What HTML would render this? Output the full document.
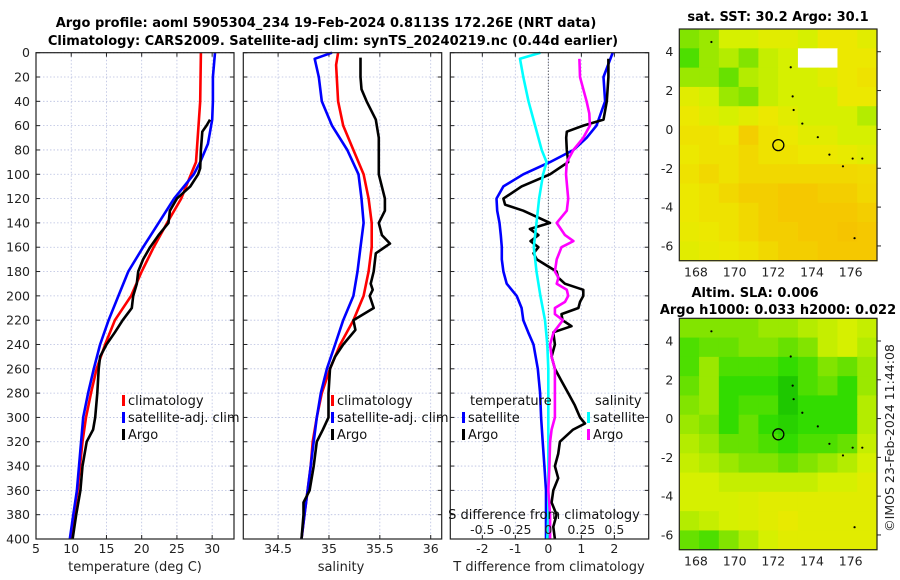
<!DOCTYPE html>
<html><head><meta charset="utf-8">
<style>
html,body{margin:0;padding:0;background:#fff;}
svg{display:block;font-family:"DejaVu Sans","Liberation Sans",sans-serif;}
</style></head>
<body>
<svg id="chart" width="900" height="580" viewBox="0 0 900 580" xmlns="http://www.w3.org/2000/svg">
<text x="326" y="27" font-size="13" font-weight="bold" text-anchor="middle">Argo profile: aoml 5905304_234 19-Feb-2024 0.8113S 172.26E (NRT data)</text>
<text x="333" y="45" font-size="13" font-weight="bold" text-anchor="middle">Climatology: CARS2009. Satellite-adj clim: synTS_20240219.nc (0.44d earlier)</text>
<g id="g"></g>
</svg>
<script>
// ---- profile data (depth in m) ----
const depthTicks = [0,20,40,60,80,100,120,140,160,180,200,220,240,260,280,300,320,340,360,380,400];
const tempTicks = [5,10,15,20,25,30];
const salTicks = [34.5,35,35.5,36];
const tdiffTicks = [-2,-1,0,1,2];
const sdiffTicks = [-0.5,-0.25,0,0.25,0.5];
const sdiffTickLabels = ['-0.5','-0.25','0','0.25','0.5'];

const tClimDepth = [0,40,90,100,120,140,160,180,200,220,240,260,280,300,320,340,360,380,400];
const tClim = [28.4,28.3,27.7,27.0,25.6,23.6,21.7,20.0,18.5,16.2,14.8,13.6,12.8,12.1,11.6,11.25,10.9,10.4,9.9];
const tSatDepth = [0,20,40,55,75,90,100,120,140,160,180,200,220,240,260,280,300,320,340,360,380,400];
const tSat = [30.4,30.1,30.1,30.0,29.4,28.3,27.4,24.6,22.4,20.2,18.1,16.7,15.3,14.1,13.2,12.4,11.7,11.4,11.1,10.8,10.3,9.8];
const tArgoDepth = [55,60,65,80,95,100,110,120,130,140,150,160,170,180,190,200,210,220,230,240,250,260,280,300,310,320,340,360,380,400];
const tArgo = [29.7,29.2,28.6,28.4,28.3,28.0,26.9,25.0,24.0,23.8,22.4,21.2,20.2,19.5,19.3,18.8,18.6,17.3,16.2,15.0,14.1,13.9,13.7,13.4,13.1,12.2,11.6,11.3,10.7,10.2];

const sClimDepth = [0,10,40,60,80,100,120,140,160,180,200,220,240,260,280,300,320,340,360,380,400];
const sClim = [35.09,35.07,35.09,35.14,35.24,35.34,35.39,35.42,35.42,35.39,35.34,35.24,35.11,35.01,34.93,34.88,34.84,34.82,34.79,34.76,34.73];
const sSatDepth = [0,5,20,40,60,80,100,120,140,160,180,200,220,240,260,280,300,320,340,360,380,400];
const sSat = [35.03,34.86,34.90,34.93,35.03,35.18,35.29,35.32,35.34,35.31,35.28,35.24,35.14,35.06,34.98,34.92,34.88,34.85,34.82,34.79,34.76,34.73];
const sArgoDepth = [4,20,30,40,55,70,100,120,130,140,150,157,165,180,190,195,200,210,220,228,240,250,260,280,300,310,320,340,360,370,380,400];
const sArgo = [35.31,35.31,35.32,35.37,35.46,35.49,35.49,35.55,35.55,35.49,35.52,35.60,35.46,35.44,35.41,35.43,35.40,35.44,35.24,35.26,35.14,35.06,35.01,34.995,34.995,34.94,34.88,34.85,34.81,34.75,34.75,34.73];

const dTSatDepth = [0,20,40,60,70,80,90,100,110,120,130,140,150,160,170,180,190,200,210,220,230,240,260,280,300,320,340,360,380,400];
const dTSat = [1.95,1.67,1.72,1.46,1.16,0.76,0.05,-0.76,-1.36,-1.57,-1.55,-1.48,-1.44,-1.41,-1.41,-1.36,-1.26,-0.96,-0.81,-0.76,-0.61,-0.45,-0.32,-0.25,-0.22,-0.17,-0.12,-0.07,-0.07,-0.07];
const dTArgoDepth = [5,20,40,55,60,65,70,80,90,100,110,120,125,130,140,145,150,155,160,165,170,175,180,185,190,195,200,205,210,215,220,225,230,240,250,260,270,280,290,300,305,310,320,330,340,350,360,370,380,390,400];
const dTArgo = [1.82,1.82,1.77,1.67,1.06,0.56,0.54,0.56,0.6,0.05,-0.81,-1.36,-1.31,-0.76,0.05,-0.56,-0.3,-0.54,-0.3,-0.45,-0.35,-0.05,0.25,0.3,0.5,1.06,1.06,0.96,0.91,0.4,0.43,0.7,0.15,0.2,0.1,0.2,0.4,0.6,0.8,0.96,1.11,0.75,0.35,0.3,0.2,0.3,0.15,0.1,0.25,0.15,0.2];
const dSSatDepth = [0,5,20,40,60,80,90,100,120,140,160,180,200,220,240,260,280,300,320,340,360,380,400];
const dSSat = [-0.06,-0.215,-0.19,-0.15,-0.10,-0.05,-0.013,-0.04,-0.07,-0.09,-0.11,-0.09,-0.06,-0.025,-0.008,0,0,0,0,0,0,0,-0.008];
const dSArgoDepth = [5,20,30,40,50,60,70,80,90,100,120,130,140,150,155,160,170,180,185,190,195,200,205,210,215,220,230,240,250,260,280,300,310,320,340,360,380,400];
const dSArgo = [0.235,0.24,0.265,0.29,0.31,0.315,0.265,0.19,0.14,0.134,0.15,0.14,0.063,0.126,0.19,0.1,0.063,0.05,0.076,0.063,0.14,0.15,0.126,0.05,0.05,0.11,0.04,0.013,0.025,0.05,0.05,0.05,0.025,0.013,0.008,0,0.013,0.013];

// ---- map data (rows top->bottom, lat 5.17 -> -6.76; cols lon 167.14 -> 177.36) ----
const lonTicks = [168,170,172,174,176];
const latTicks = [4,2,0,-2,-4,-6];
const sstGrid = [
[0.40,0.45,0.60,0.60,0.65,0.65,0.60,0.70,0.70,0.65],
[0.30,0.45,0.50,0.40,0.55,0.60,-1,-1,0.70,0.70],
[0.45,0.45,0.35,0.50,0.55,0.60,0.60,0.65,0.70,0.72],
[0.65,0.60,0.45,0.40,0.55,0.60,0.60,0.60,0.70,0.70],
[0.70,0.65,0.60,0.65,0.70,0.65,0.60,0.60,0.60,0.50],
[0.72,0.72,0.70,0.78,0.72,0.70,0.65,0.65,0.60,0.60],
[0.70,0.72,0.72,0.75,0.72,0.72,0.70,0.70,0.68,0.65],
[0.72,0.75,0.72,0.75,0.75,0.75,0.75,0.75,0.75,0.74],
[0.70,0.72,0.75,0.78,0.78,0.80,0.80,0.78,0.78,0.75],
[0.70,0.72,0.72,0.75,0.78,0.80,0.80,0.80,0.80,0.78],
[0.68,0.70,0.72,0.75,0.78,0.78,0.80,0.80,0.82,0.80],
[0.65,0.68,0.70,0.72,0.75,0.78,0.78,0.80,0.80,0.80]];
const slaGrid = [
[0.40,0.40,0.40,0.40,0.45,0.45,0.50,0.55,0.60,0.55],
[0.30,0.35,0.35,0.40,0.40,0.35,0.40,0.55,0.60,0.50],
[0.30,0.45,0.30,0.30,0.30,0.25,0.30,0.40,0.35,0.45],
[0.35,0.45,0.25,0.25,0.25,0.15,0.30,0.35,0.25,0.45],
[0.40,0.45,0.25,0.30,0.30,0.15,0.25,0.25,0.25,0.50],
[0.45,0.40,0.25,0.35,0.25,0.20,0.25,0.25,0.25,0.50],
[0.50,0.45,0.35,0.35,0.30,0.25,0.30,0.30,0.35,0.55],
[0.55,0.50,0.45,0.40,0.40,0.35,0.40,0.45,0.50,0.60],
[0.60,0.60,0.55,0.55,0.55,0.55,0.55,0.60,0.60,0.65],
[0.60,0.60,0.60,0.62,0.65,0.65,0.65,0.65,0.65,0.65],
[0.50,0.55,0.60,0.62,0.65,0.68,0.65,0.65,0.65,0.65],
[0.35,0.30,0.40,0.50,0.60,0.65,0.65,0.65,0.65,0.65]];
const argoLon = [172.26];
const argoLat = [-0.81];
const islandLon = [172.9,173.0,173.05,173.5,174.3,174.9,175.6,176.1,176.6,168.8,176.2];
const islandLat = [3.2,1.7,1.0,0.3,-0.4,-1.3,-1.9,-1.5,-1.5,4.5,-5.6];

const NS='http://www.w3.org/2000/svg';
const G=document.getElementById('g');
function el(tag,attrs,parent){const e=document.createElementNS(NS,tag);for(const k in attrs)e.setAttribute(k,attrs[k]);(parent||G).appendChild(e);return e;}
function txt(s,attrs,parent){const e=el('text',attrs,parent);e.textContent=s;return e;}

const Y0=52.7, Y1=539;
const yD=d=>Y0+(d/400)*(Y1-Y0);

function panel(name,x0,x1,xmin,xmax,showY){
  const p=el('g',{});
  
  
  const sx=v=>x0+(v-xmin)/(xmax-xmin)*(x1-x0);
  return {g:p,sx,x0,x1};
}
function grid(P,xt){
  depthTicks.forEach(d=>{
    const l=el('line',{x1:P.x0,x2:P.x1,y1:yD(d),y2:yD(d),stroke:'#b8bfe0','stroke-width':0.8,'stroke-dasharray':'1.5,2'},P.g);
    
    
    el('line',{x1:P.x0,x2:P.x0+4,y1:yD(d),y2:yD(d),stroke:'#222','stroke-width':1},P.g);
    el('line',{x1:P.x1-4,x2:P.x1,y1:yD(d),y2:yD(d),stroke:'#222','stroke-width':1},P.g);
  });
  xt.forEach(v=>{
    const x=P.sx(v);
    const l=el('line',{x1:x,x2:x,y1:Y0,y2:Y1,stroke:'#b8bfe0','stroke-width':0.8,'stroke-dasharray':'1.5,2'},P.g);
    
    
    el('line',{x1:x,x2:x,y1:Y1,y2:Y1-4,stroke:'#222'},P.g);
    el('line',{x1:x,x2:x,y1:Y0,y2:Y0+4,stroke:'#222'},P.g);
  });
}
function frame(P){el('rect',{x:P.x0,y:Y0,width:P.x1-P.x0,height:Y1-Y0,fill:'none',stroke:'#222','stroke-width':1.2},P.g);}
function line(P,ds,vs,color,name,w){
  const pts=ds.map((d,i)=>P.sx(vs[i]).toFixed(1)+','+yD(d).toFixed(1)).join(' ');
  const l=el('polyline',{points:pts,fill:'none',stroke:color,'stroke-width':w||2.6,'stroke-linejoin':'round'},P.g);
  
  
}
function xlabels(P,ticks,labels,y){
  ticks.forEach((v,i)=>{const t=txt(labels?labels[i]:String(v),{x:P.sx(v),y:y,'font-size':12.5,'text-anchor':'middle',fill:'#222'},P.g);
    
    });
}
function legendEntry(P,x,y,color,label){
  const m=el('rect',{x:x-2,y:y-9,width:3,height:11,fill:color},P.g);
  
  
  const t=txt(label,{x:x+4,y:y+1,'font-size':13,fill:'#111'},P.g);
  
  
}

// Temperature panel
const PT=panel('temperature-panel',36,234,5,33.1);
grid(PT,tempTicks);
line(PT,tClimDepth,tClim,'#ff0000','temp-climatology-line');
line(PT,tSatDepth,tSat,'#0000ff','temp-satellite-line');
line(PT,tArgoDepth,tArgo,'#000000','temp-argo-line');
frame(PT);
depthTicks.forEach(d=>{const t=txt(String(d),{x:30,y:yD(d)+4.5,'font-size':12.5,'text-anchor':'end',fill:'#222'});
  
  });
xlabels(PT,tempTicks,null,553);
txt('temperature (deg C)',{x:135,y:571,'font-size':13,'text-anchor':'middle',fill:'#222',},PT.g);
legendEntry(PT,124,404,'#ff0000','climatology');
legendEntry(PT,124,421,'#0000ff','satellite-adj. clim');
legendEntry(PT,124,438,'#000000','Argo');

// Salinity panel
const PS=panel('salinity-panel',243.3,441.7,34.158,36.108);
grid(PS,salTicks);
line(PS,sClimDepth,sClim,'#ff0000','sal-climatology-line');
line(PS,sSatDepth,sSat,'#0000ff','sal-satellite-line');
line(PS,sArgoDepth,sArgo,'#000000','sal-argo-line');
legendEntry(PS,333,404,'#ff0000','climatology');
legendEntry(PS,333,421,'#0000ff','satellite-adj. clim');
legendEntry(PS,333,438,'#000000','Argo');
frame(PS);
xlabels(PS,salTicks,null,553);
txt('salinity',{x:341,y:571,'font-size':13,'text-anchor':'middle',fill:'#222',},PS.g);

// Difference panel
const PD=panel('difference-panel',450.3,648.7,-2.97,3.04);
grid(PD,tdiffTicks);
const zx=PD.sx(0);
el('line',{x1:zx,x2:zx,y1:Y0,y2:Y1,stroke:'#333','stroke-width':1,'stroke-dasharray':'1,2'},PD.g);
line(PD,dTSatDepth,dTSat,'#0000ff','tdiff-satellite-line');
line(PD,dTArgoDepth,dTArgo,'#000000','tdiff-argo-line');
line(PD,dSSatDepth,dSSat.map(v=>v*4),'#00ffff','sdiff-satellite-line');
line(PD,dSArgoDepth,dSArgo.map(v=>v*4),'#ff00ff','sdiff-argo-line');
frame(PD);
txt('temperature',{x:470,y:405,'font-size':13,fill:'#111',},PD.g);
txt('salinity',{x:595,y:405,'font-size':13,fill:'#111',},PD.g);
legendEntry(PD,464,421,'#0000ff','satellite');
legendEntry(PD,464,438,'#000000','Argo');
legendEntry(PD,589,421,'#00ffff','satellite');
legendEntry(PD,589,438,'#ff00ff','Argo');
txt('S difference from climatology',{x:544,y:519,'font-size':13,'text-anchor':'middle',fill:'#111',},PD.g);
xlabels(PD,sdiffTicks.map(v=>v*4),sdiffTickLabels,534);
xlabels(PD,tdiffTicks,null,553);
txt('T difference from climatology',{x:549,y:571,'font-size':13,'text-anchor':'middle',fill:'#222',},PD.g);

// Maps
const stops=[[0.15,[30,200,0]],[0.25,[50,220,0]],[0.4,[130,228,0]],[0.5,[180,236,0]],[0.6,[214,240,0]],[0.7,[236,232,0]],[0.8,[245,200,0]],[0.9,[245,180,0]],[1.0,[240,150,0]]];
function cmap(v){
  if(v<0)return '#ffffff';
  if(v<=stops[0][0])return 'rgb('+stops[0][1]+')';
  for(let i=1;i<stops.length;i++){if(v<=stops[i][0]){const a=stops[i-1],b=stops[i],t=(v-a[0])/(b[0]-a[0]);
    return 'rgb('+a[1].map((c,j)=>Math.round(c+(b[1][j]-c)*t)).join(',')+')';}}
  return 'rgb('+stops[stops.length-1][1]+')';
}
function map(name,y0,y1,data){
  const m=el('g',{});
  
  
  const x0=679.3,x1=877,lon0=167.14,lon1=177.36,lat0=5.17,lat1=-6.76;
  const sx=v=>x0+(v-lon0)/(lon1-lon0)*(x1-x0);
  const sy=v=>y0+(v-lat0)/(lat1-lat0)*(y1-y0);
  const nr=data.length,nc=data[0].length,cw=(x1-x0)/nc,ch=(y1-y0)/nr;
  data.forEach((row,r)=>row.forEach((v,c)=>{
    const cell=el('rect',{x:(x0+c*cw).toFixed(2),y:(y0+r*ch).toFixed(2),width:(cw+0.6).toFixed(2),height:(ch+0.6).toFixed(2),fill:cmap(v)},m);
    
    
  }));
  islandLon.forEach((lo,i)=>{const d=el('circle',{cx:sx(lo),cy:sy(islandLat[i]),r:1.1,fill:'#000'},m);
    
    });
  argoLon.forEach((lo,i)=>{const c=el('circle',{cx:sx(lo),cy:sy(argoLat[i]),r:5.5,fill:'none',stroke:'#000','stroke-width':1.3},m);
    
    });
  el('rect',{x:x0,y:y0,width:x1-x0,height:y1-y0,fill:'none',stroke:'#222','stroke-width':1.2},m);
  latTicks.forEach(v=>{const y=sy(v);
    el('line',{x1:x1,x2:x1+4,y1:y,y2:y,stroke:'#222'},m);
    const t=txt(String(v),{x:x0-6,y:y+4.5,'font-size':12.5,'text-anchor':'end',fill:'#222'},m);
    
    });
  lonTicks.forEach(v=>{const x=sx(v);
    const t=txt(String(v),{x:x,y:y1+16,'font-size':12.5,'text-anchor':'middle',fill:'#222'},m);
    
    });
}
map('sst-map',29,260.7,sstGrid);
map('sla-map',318.3,549.7,slaGrid);
txt('sat. SST: 30.2 Argo: 30.1',{x:778,y:21,'font-size':13,'font-weight':'bold','text-anchor':'middle',});
txt('Altim. SLA: 0.006',{x:755,y:297,'font-size':13,'font-weight':'bold','text-anchor':'middle',});
txt('Argo h1000: 0.033 h2000: 0.022',{x:778,y:314,'font-size':13,'font-weight':'bold','text-anchor':'middle',});
txt('©IMOS 23-Feb-2024 11:44:08',{x:0,y:0,'font-size':12.5,'text-anchor':'middle',fill:'#222',transform:'translate(894,438) rotate(-90)',});
</script>
</body></html>
